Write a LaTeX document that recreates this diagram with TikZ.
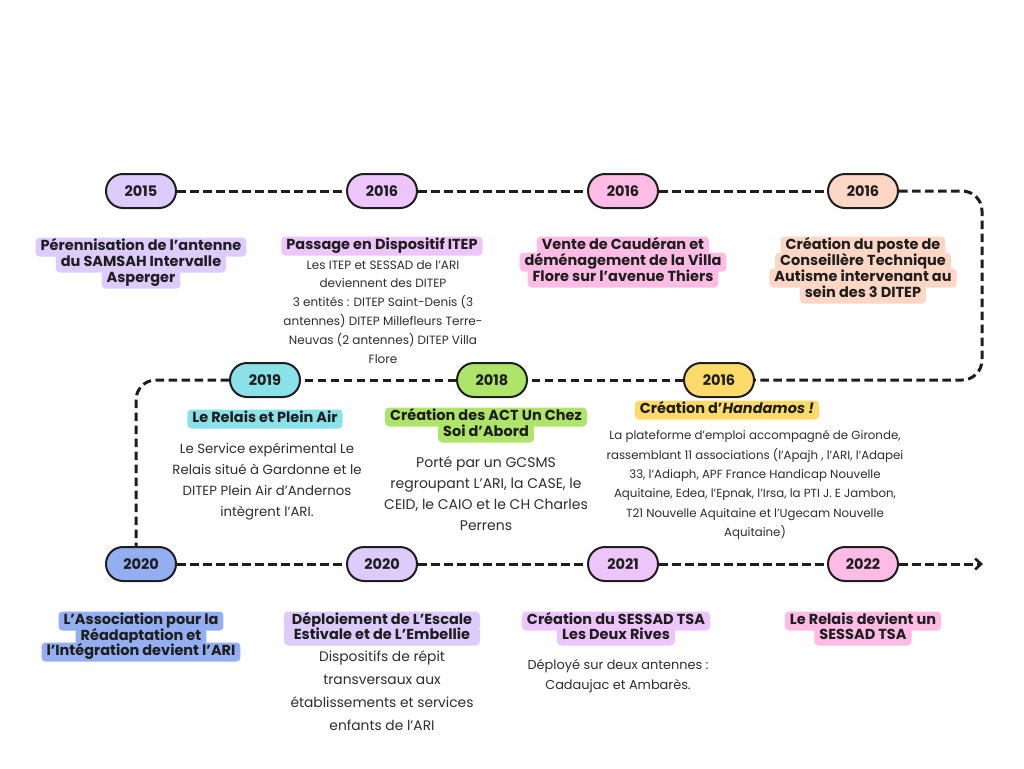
\documentclass[tikz,border=0pt]{standalone}
\usepackage{fontspec}
\setmainfont{Poppins}
\usetikzlibrary{arrows.meta,calc}
\definecolor{cLav}{HTML}{DCCBFC}
\definecolor{cMauve}{HTML}{EDC5FB}
\definecolor{cPink}{HTML}{FDBBE5}
\definecolor{cPeach}{HTML}{FED6C6}
\definecolor{cYellow}{HTML}{FEDA6A}
\definecolor{cGreen}{HTML}{AFE46A}
\definecolor{cCyan}{HTML}{8AE1E8}
\definecolor{cBlue}{HTML}{93AEF1}
\definecolor{ink}{HTML}{1E1E1E}
\definecolor{ink2}{HTML}{2E2E2E}
\begin{document}
\begin{tikzpicture}[x=1pt,y=-1pt,
  pill/.style={draw=ink, line width=2pt, rounded corners=17pt, minimum width=70pt,
    minimum height=34pt, inner sep=0pt, font=\bfseries\fontsize{14.5}{16}\selectfont, text=ink},
  tl/.style={rounded corners=4pt, inner xsep=5pt, inner ysep=2.5pt, text height=10.5pt,
    text depth=3.5pt, anchor=base, font=\bfseries\fontsize{14.5}{16}\selectfont, text=ink},
  body/.style={align=center, anchor=north, inner sep=0pt, text=ink2},
  tline/.style={draw=ink, line width=3pt, dash pattern=on 8.5pt off 4.5pt}]
\useasboundingbox[fill=white] (0,0) rectangle (1024,768);

% pills
\node[pill, fill=cLav]    (p1)  at (141,191) {2015};
\node[pill, fill=cMauve]  (p2)  at (382,191) {2016};
\node[pill, fill=cPink]   (p3)  at (623,191) {2016};
\node[pill, fill=cPeach]  (p4)  at (863,191) {2016};
\node[pill, fill=cYellow] (p5)  at (719,380) {2016};
\node[pill, fill=cGreen]  (p6)  at (492,380) {2018};
\node[pill, fill=cCyan]   (p7)  at (265,380) {2019};
\node[pill, fill=cBlue]   (p8)  at (141,564) {2020};
\node[pill, fill=cLav]    (p9)  at (382,564) {2020};
\node[pill, fill=cMauve]  (p10) at (623,564) {2021};
\node[pill, fill=cPink]   (p11) at (863,564) {2022};

\coordinate (c1) at (982,191);
\coordinate (c2) at (982,380);
\coordinate (c3) at (136,380);
\coordinate (c4) at (136,547);
\coordinate (end) at (983,564);

% connectors
\draw[tline] (p1) -- (p2);
\draw[tline] (p2) -- (p3);
\draw[tline] (p3) -- (p4);
\draw[tline, rounded corners=20pt] (p4.east) -- (c1) -- (c2) -- (p5.east);
\draw[tline] (p5) -- (p6);
\draw[tline] (p6) -- (p7);
\draw[tline, rounded corners=20pt] (p7.west) -- (c3) -- (c4);
\draw[tline] (p8) -- (p9);
\draw[tline] (p9) -- (p10);
\draw[tline] (p10) -- (p11);
\draw[tline, -{Straight Barb[length=6pt,width=11pt,line width=2.6pt]}] (p11) -- (end);

% 2015
\node[tl, fill=cLav] (t1a) at (141,250.5) {Pérennisation de l’antenne};
\node[tl, fill=cLav] (t1b) at (141,266.5) {du SAMSAH Intervalle};
\node[tl, fill=cLav] (t1c) at (141,282.5) {Asperger};

% 2016 ITEP
\node[tl, fill=cMauve] (t2a) at (382,249.5) {Passage en Dispositif ITEP};
\node[body, font=\fontsize{12}{18.8}\selectfont] (b2) at (383,260)
  {Les ITEP et SESSAD de l’ARI\\deviennent des DITEP\\3 entités : DITEP Saint-Denis (3\\antennes) DITEP Millefleurs Terre-\\Neuvas (2 antennes) DITEP Villa\\Flore};

% 2016 pink
\node[tl, fill=cPink] (t3a) at (623,249.5) {Vente de Caudéran et};
\node[tl, fill=cPink] (t3b) at (623,265.5) {déménagement de la Villa};
\node[tl, fill=cPink] (t3c) at (623,281.5) {Flore sur l’avenue Thiers};

% 2016 peach
\node[tl, fill=cPeach] (t4a) at (863,249.5) {Création du poste de};
\node[tl, fill=cPeach] (t4b) at (863,265.5) {Conseillère Technique};
\node[tl, fill=cPeach] (t4c) at (863,281.5) {Autisme intervenant au};
\node[tl, fill=cPeach] (t4d) at (863,297.5) {sein des 3 DITEP};

% 2016 yellow
\node[tl, fill=cYellow] (t5a) at (727,413.5) {Création d’\textit{Handamos !}};
\node[body, font=\fontsize{11.8}{19.3}\selectfont] (b5) at (755,430.5)
  {La plateforme d’emploi accompagné de Gironde,\\rassemblant 11 associations (l'Apajh , l'ARI, l'Adapei\\33, l'Adiaph, APF France Handicap Nouvelle\\Aquitaine, Edea, l'Epnak, l'Irsa, la PTI J. E Jambon,\\T21 Nouvelle Aquitaine et l'Ugecam Nouvelle\\Aquitaine)};

% 2018
\node[tl, fill=cGreen] (t6a) at (486,420.5) {Création des ACT Un Chez};
\node[tl, fill=cGreen] (t6b) at (486,436.5) {Soi d’Abord};
\node[body, font=\fontsize{14}{21}\selectfont] (b6) at (486,456)
  {Porté par un GCSMS\\regroupant L’ARI, la CASE, le\\CEID, le CAIO et le CH Charles\\Perrens};

% 2019
\node[tl, fill=cCyan] (t7a) at (265,422.5) {Le Relais et Plein Air};
\node[body, font=\fontsize{13.3}{21}\selectfont] (b7) at (267,442.5)
  {Le Service expérimental Le\\Relais situé à Gardonne et le\\DITEP Plein Air d’Andernos\\intègrent l’ARI.};

% 2020 blue
\node[tl, fill=cBlue] (t8a) at (141,624.5) {L’Association pour la};
\node[tl, fill=cBlue] (t8b) at (141,640.5) {Réadaptation et};
\node[tl, fill=cBlue] (t8c) at (141,655.5) {l’Intégration devient l’ARI};

% 2020 lavender
\node[tl, fill=cLav, minimum width=196pt] (t9a) at (382,624.5) {Déploiement de L’Escale};
\node[tl, fill=cLav, minimum width=196pt] (t9b) at (382,639.5) {Estivale et de L’Embellie};
\node[body, font=\fontsize{13.8}{23}\selectfont] (b9) at (382,650)
  {Dispositifs de répit\\transversaux aux\\établissements et services\\enfants de l’ARI};

% 2021
\node[tl, fill=cMauve] (t10a) at (616,624.5) {Création du SESSAD TSA};
\node[tl, fill=cMauve] (t10b) at (616,639.5) {Les Deux Rives};
\node[body, font=\fontsize{12.9}{20}\selectfont] (b10) at (618,659.5)
  {Déployé sur deux antennes :\\Cadaujac et Ambarès.};

% 2022
\node[tl, fill=cPink] (t11a) at (863,624.5) {Le Relais devient un};
\node[tl, fill=cPink] (t11b) at (863,639.5) {SESSAD TSA};
\end{tikzpicture}
\end{document}
